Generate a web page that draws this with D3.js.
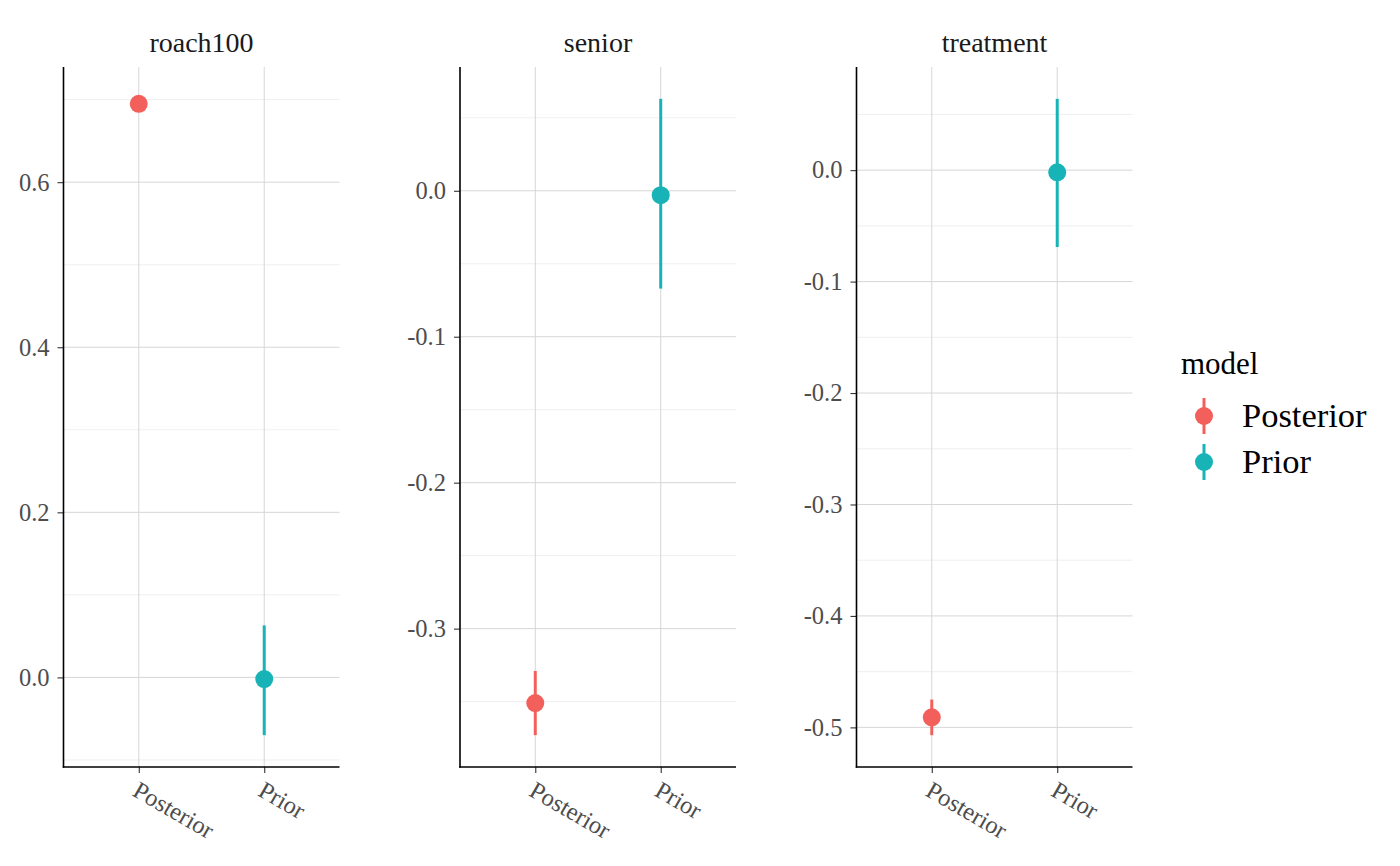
<!DOCTYPE html>
<html>
<head>
<meta charset="utf-8">
<script src="https://cdn.jsdelivr.net/npm/d3@7"></script>
<style>
  html, body { margin: 0; padding: 0; background: #fff; }
  svg { display: block; font-family: "Liberation Serif", "Times New Roman", serif; }
</style>
</head>
<body>
<svg id="chart" width="1400" height="866"></svg>
<script>
// ---- data ----
const terms = ["roach100", "senior", "treatment"];
const models = ["Posterior", "Prior"];
const posteriorEst  = [0.695, -0.351, -0.491];
const posteriorLow  = [0.690, -0.373, -0.507];
const posteriorHigh = [0.701, -0.329, -0.475];
const priorEst  = [-0.002, -0.003, -0.002];
const priorLow  = [-0.070, -0.067, -0.069];
const priorHigh = [0.063, 0.063, 0.064];
const modelColors = ["#F3605B", "#17B3B7"];

// ---- layout ----
const W = 1400, H = 866;
const panelLeft = 63.5, panelWidth = 276, panelGap = 120.5;
const panelTop = 67, panelBottom = 767;

const svg = d3.select("#chart");
const color = d3.scaleOrdinal().domain(models).range(modelColors);

const rows = [];
terms.forEach((t, i) => {
  rows.push({term: t, model: "Posterior", est: posteriorEst[i], lo: posteriorLow[i], hi: posteriorHigh[i]});
  rows.push({term: t, model: "Prior", est: priorEst[i], lo: priorLow[i], hi: priorHigh[i]});
});

const panelScale = d3.scaleBand().domain(terms)
  .range([panelLeft, panelLeft + terms.length * panelWidth + (terms.length - 1) * panelGap])
  .paddingInner(panelGap / (panelWidth + panelGap)).paddingOuter(0);

terms.forEach((term) => {
  const data = rows.filter(d => d.term === term);
  const x0 = panelScale(term);
  const g = svg.append("g").attr("transform", `translate(${x0},0)`);
  const pw = panelScale.bandwidth();

  const lo = d3.min(data, d => d.lo), hi = d3.max(data, d => d.hi);
  const pad = (hi - lo) * 0.05;
  const y = d3.scaleLinear().domain([lo - pad, hi + pad]).range([panelBottom, panelTop]);
  // discrete x with 0.6 expansion each side
  const x = d3.scalePoint().domain(models).range([pw * 0.6 / 2.2, pw * 1.6 / 2.2]);

  const majors = y.ticks(5);
  const step = majors[1] - majors[0];
  const minors = [];
  for (let v = majors[0] - step / 2; v <= y.domain()[1] + 1e-9; v += step) {
    if (v >= y.domain()[0]) minors.push(v);
  }

  // minor grid
  g.selectAll(".minor").data(minors).join("line")
    .attr("x1", 0).attr("x2", pw)
    .attr("y1", d => y(d)).attr("y2", d => y(d))
    .attr("stroke", "#EBEBEB").attr("stroke-width", 0.8);
  // major grid
  g.selectAll(".major").data(majors).join("line")
    .attr("x1", 0).attr("x2", pw)
    .attr("y1", d => y(d)).attr("y2", d => y(d))
    .attr("stroke", "#D6D6D6").attr("stroke-width", 1);
  g.selectAll(".vgrid").data(models).join("line")
    .attr("x1", d => x(d)).attr("x2", d => x(d))
    .attr("y1", panelTop).attr("y2", panelBottom)
    .attr("stroke", "#D6D6D6").attr("stroke-width", 1);

  // y axis
  const yAxis = g.append("g").call(d3.axisLeft(y).tickValues(majors).tickFormat(d3.format(".1f")).tickSize(6).tickPadding(8));
  yAxis.select(".domain").remove();
  yAxis.selectAll(".tick line").attr("stroke", "#333").attr("stroke-width", 1.1);
  yAxis.selectAll(".tick text").attr("fill", "#4D4D4D").style("font-size", "24.5px")
    .style("font-family", "Liberation Serif").text(d => d3.format(".1f")(d).replace("−", "-"));

  // x axis
  const xAxis = g.append("g").attr("transform", `translate(0,${panelBottom})`)
    .call(d3.axisBottom(x).tickSize(6).tickPadding(4));
  xAxis.select(".domain").remove();
  xAxis.selectAll(".tick line").attr("stroke", "#333").attr("stroke-width", 1.1);
  xAxis.selectAll(".tick text").attr("fill", "#4D4D4D").style("font-size", "24.5px")
    .style("font-family", "Liberation Serif")
    .attr("text-anchor", "start").attr("dy", null).attr("y", 0)
    .attr("transform", "translate(-8,28) rotate(30)");

  // axis lines
  g.append("line").attr("x1", 0).attr("x2", 0).attr("y1", panelTop).attr("y2", panelBottom + 0.75)
    .attr("stroke", "#000").attr("stroke-width", 1.6);
  g.append("line").attr("x1", -0.75).attr("x2", pw).attr("y1", panelBottom).attr("y2", panelBottom)
    .attr("stroke", "#000").attr("stroke-width", 1.6);

  // pointranges
  g.selectAll(".rng").data(data).join("line")
    .attr("x1", d => x(d.model)).attr("x2", d => x(d.model))
    .attr("y1", d => y(d.lo)).attr("y2", d => y(d.hi))
    .attr("stroke", d => color(d.model)).attr("stroke-width", 3);
  g.selectAll(".pt").data(data).join("circle")
    .attr("cx", d => x(d.model)).attr("cy", d => y(d.est)).attr("r", 9)
    .attr("fill", d => color(d.model));

  // strip title
  g.append("text").attr("x", pw / 2).attr("y", 52).attr("text-anchor", "middle")
    .attr("fill", "#1A1A1A").style("font-size", "28px").text(term);
});

// ---- legend ----
const lg = svg.append("g");
lg.append("text").attr("x", 1181).attr("y", 374).style("font-size", "31px").attr("fill", "#000").text("model");
models.forEach((m, i) => {
  const cy = 416 + i * 46;
  lg.append("line").attr("x1", 1204).attr("x2", 1204).attr("y1", cy - 18).attr("y2", cy + 18)
    .attr("stroke", color(m)).attr("stroke-width", 3);
  lg.append("circle").attr("cx", 1204).attr("cy", cy).attr("r", 9).attr("fill", color(m));
  lg.append("text").attr("x", 1242).attr("y", cy + 11).style("font-size", "34.5px").attr("fill", "#000").text(m);
});
</script>
</body>
</html>
